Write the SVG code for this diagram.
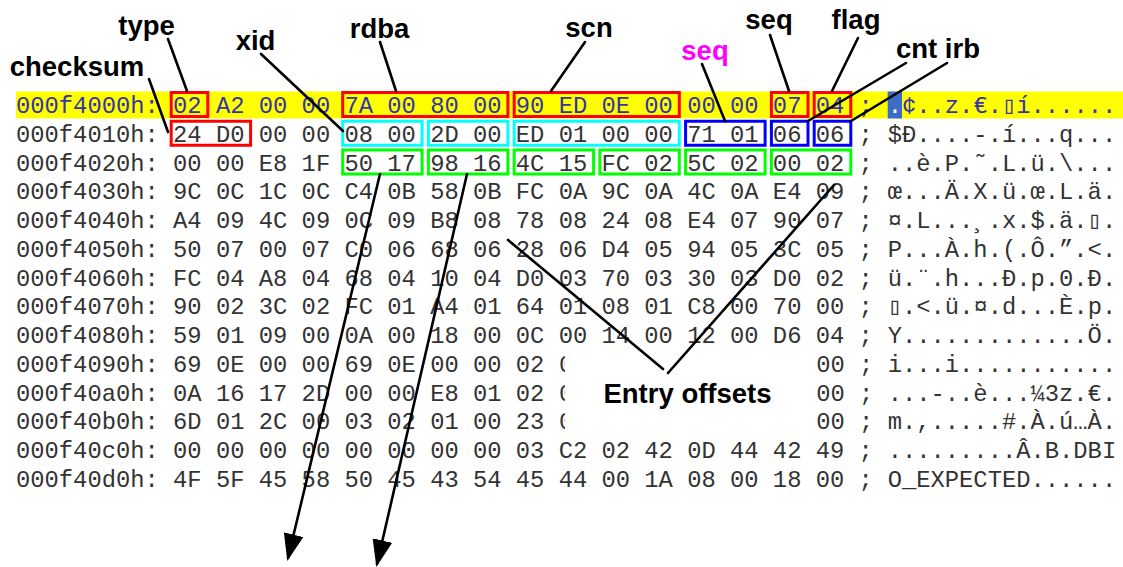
<svg xmlns="http://www.w3.org/2000/svg" width="1123" height="567" viewBox="0 0 1123 567">
<style>
.hex{font-family:"Liberation Mono","Courier New",monospace;font-size:23.8px;fill:#333}
.hl{fill:#3434a8}
.lbl{font-family:"Liberation Sans",Arial,sans-serif;font-weight:bold;font-size:27.5px;fill:#000;text-anchor:middle}
.box{fill:none;stroke-width:3}
.red{stroke:#ff0000}.cyan{stroke:#00ffff}.blue{stroke:#0000ff}.green{stroke:#00ff00}
.ln{stroke:#000;stroke-width:2.6;fill:none;stroke-linecap:round}
</style>
<defs>
<marker id="ah" markerUnits="userSpaceOnUse" markerWidth="30" markerHeight="22" refX="24" refY="10" orient="auto">
<path d="M0,0 L27,10 L0,20 Z" fill="#000"/>
</marker>
<clipPath id="c9"><rect x="555" y="340" width="10" height="100"/></clipPath>
</defs>
<rect width="1123" height="567" fill="#fff"/>
<g id="hexdump">
<rect x="16" y="91.5" width="1107" height="27" fill="#ffff00"/>
<rect x="887.7" y="91.5" width="14.3" height="27" fill="#3d6cc8"/>
<text class="hex hl" x="16" y="113">000f4000h: 02 A2 00 00 7A 00 80 00 90 ED 0E 00 00 00 07 04 ;</text>
<text class="hex" x="887.7" y="113" style="fill:#fff">.</text>
<text class="hex hl" x="902" y="113">¢..z.€.▯í......</text>
<text class="hex" x="16" y="141.75">000f4010h: 24 D0 00 00 08 00 2D 00 ED 01 00 00 71 01 06 06 ;</text>
<text class="hex" x="887.7" y="141.75">$Ð....-.í...q...</text>
<text class="hex" x="16" y="170.5">000f4020h: 00 00 E8 1F 50 17 98 16 4C 15 FC 02 5C 02 00 02 ;</text>
<text class="hex" x="887.7" y="170.5">..è.P.˜.L.ü.\...</text>
<text class="hex" x="16" y="199.25">000f4030h: 9C 0C 1C 0C C4 0B 58 0B FC 0A 9C 0A 4C 0A E4 09 ;</text>
<text class="hex" x="887.7" y="199.25">œ...Ä.X.ü.œ.L.ä.</text>
<text class="hex" x="16" y="228">000f4040h: A4 09 4C 09 0C 09 B8 08 78 08 24 08 E4 07 90 07 ;</text>
<text class="hex" x="887.7" y="228">¤.L...¸.x.$.ä.▯.</text>
<text class="hex" x="16" y="256.75">000f4050h: 50 07 00 07 C0 06 68 06 28 06 D4 05 94 05 3C 05 ;</text>
<text class="hex" x="887.7" y="256.75">P...À.h.(.Ô.”.&lt;.</text>
<text class="hex" x="16" y="285.5">000f4060h: FC 04 A8 04 68 04 10 04 D0 03 70 03 30 03 D0 02 ;</text>
<text class="hex" x="887.7" y="285.5">ü.¨.h...Ð.p.0.Ð.</text>
<text class="hex" x="16" y="314.25">000f4070h: 90 02 3C 02 FC 01 A4 01 64 01 08 01 C8 00 70 00 ;</text>
<text class="hex" x="887.7" y="314.25">▯.&lt;.ü.¤.d...È.p.</text>
<text class="hex" x="16" y="343">000f4080h: 59 01 09 00 0A 00 18 00 0C 00 14 00 12 00 D6 04 ;</text>
<text class="hex" x="887.7" y="343">Y.............Ö.</text>
<text class="hex" x="16" y="371.75">000f4090h: 69 0E 00 00 69 0E 00 00 02</text>
<text class="hex" x="559" y="371.75" clip-path="url(#c9)">0</text>
<text class="hex" x="816.24" y="371.75">00 ;</text>
<text class="hex" x="887.7" y="371.75">i...i...........</text>
<text class="hex" x="16" y="400.5">000f40a0h: 0A 16 17 2D 00 00 E8 01 02</text>
<text class="hex" x="559" y="400.5" clip-path="url(#c9)">0</text>
<text class="hex" x="816.24" y="400.5">00 ;</text>
<text class="hex" x="887.7" y="400.5">...-..è...¼3z.€.</text>
<text class="hex" x="16" y="429.25">000f40b0h: 6D 01 2C 00 03 02 01 00 23</text>
<text class="hex" x="559" y="429.25" clip-path="url(#c9)">0</text>
<text class="hex" x="816.24" y="429.25">00 ;</text>
<text class="hex" x="887.7" y="429.25">m.,.....#.À.ú…À.</text>
<text class="hex" x="16" y="458">000f40c0h: 00 00 00 00 00 00 00 00 03 C2 02 42 0D 44 42 49 ;</text>
<text class="hex" x="887.7" y="458">.........Â.B.DBI</text>
<text class="hex" x="16" y="486.75">000f40d0h: 4F 5F 45 58 50 45 43 54 45 44 00 1A 08 00 18 00 ;</text>
<text class="hex" x="887.7" y="486.75">O_EXPECTED......</text>
</g>
<g id="fields">
<rect class="box red" x="171.2" y="92.5" width="36.6" height="24"/>
<rect class="box red" x="342.7" y="92.5" width="165.2" height="24"/>
<rect class="box red" x="514.2" y="92.5" width="165.1" height="24"/>
<rect class="box red" x="771.4" y="92.5" width="36.6" height="24"/>
<rect class="box red" x="814.2" y="92.5" width="36.6" height="24"/>
<rect class="box red" x="171.2" y="121.25" width="79.4" height="24"/>
<rect class="box cyan" x="342.7" y="121.25" width="79.4" height="24"/>
<rect class="box cyan" x="428.4" y="121.25" width="79.5" height="24"/>
<rect class="box cyan" x="514.2" y="121.25" width="165.1" height="24"/>
<rect class="box blue" x="685.6" y="121.25" width="79.5" height="24"/>
<rect class="box blue" x="771.4" y="121.25" width="36.6" height="24"/>
<rect class="box blue" x="814.2" y="121.25" width="36.6" height="24"/>
<rect class="box green" x="342.7" y="150" width="79.4" height="24"/>
<rect class="box green" x="428.4" y="150" width="79.5" height="24"/>
<rect class="box green" x="514.2" y="150" width="79.4" height="24"/>
<rect class="box green" x="599.9" y="150" width="79.4" height="24"/>
<rect class="box green" x="685.6" y="150" width="79.5" height="24"/>
<rect class="box green" x="771.4" y="150" width="79.4" height="24"/>
</g>
<g id="connectors">
<line class="ln" x1="168" y1="39" x2="187" y2="91"/>
<line class="ln" x1="149" y1="79" x2="168" y2="132"/>
<line class="ln" x1="261" y1="54" x2="343" y2="131"/>
<line class="ln" x1="380" y1="42" x2="396" y2="91"/>
<line class="ln" x1="585" y1="42" x2="551" y2="91"/>
<line class="ln" x1="770" y1="35" x2="789" y2="91"/>
<line class="ln" x1="858" y1="38" x2="832" y2="91"/>
<line class="ln" x1="702" y1="64" x2="725" y2="121"/>
<line class="ln" x1="906" y1="63" x2="808" y2="121"/>
<line class="ln" x1="947" y1="63" x2="851" y2="121"/>
<line class="ln" x1="508" y1="240" x2="663" y2="369"/>
<line class="ln" x1="834" y1="185" x2="668" y2="373"/>
<line class="ln" x1="380" y1="174" x2="288" y2="558" marker-end="url(#ah)"/>
<line class="ln" x1="467" y1="174" x2="377" y2="564" marker-end="url(#ah)"/>
</g>
<g id="label-type"><text class="lbl" x="146.5" y="35">type</text></g>
<g id="label-checksum"><text class="lbl" x="77" y="76">checksum</text></g>
<g id="label-xid"><text class="lbl" x="255.5" y="50">xid</text></g>
<g id="label-rdba"><text class="lbl" x="379.5" y="38">rdba</text></g>
<g id="label-scn"><text class="lbl" x="589" y="37">scn</text></g>
<g id="label-seq-magenta"><text class="lbl" x="705" y="60" style="fill:#ff00ff">seq</text></g>
<g id="label-seq"><text class="lbl" x="769" y="29">seq</text></g>
<g id="label-flag"><text class="lbl" x="856" y="29">flag</text></g>
<g id="label-cnt-irb"><text class="lbl" x="938" y="58">cnt irb</text></g>
<g id="label-entry-offsets"><text class="lbl" x="687.5" y="403">Entry offsets</text></g>
</svg>
